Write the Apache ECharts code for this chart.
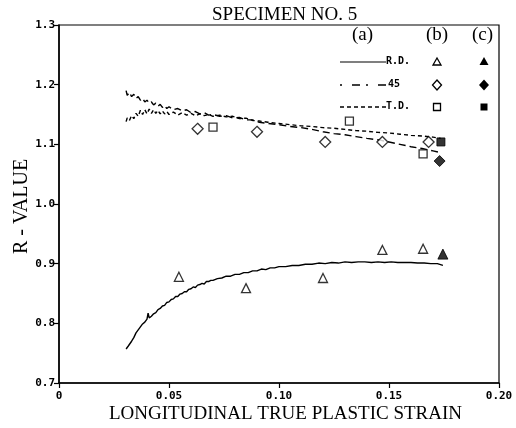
<!DOCTYPE html>
<html><head><meta charset="utf-8">
<script src="https://cdn.jsdelivr.net/npm/echarts@6/dist/echarts.min.js"></script>
<style>html,body{margin:0;padding:0;background:#fff}#c{width:516px;height:428px}</style>
</head><body><div id="c"></div>
<script>
// ---- data ----
const titleText = 'SPECIMEN NO. 5';
const xName = 'LONGITUDINAL TRUE PLASTIC STRAIN';
const yName = 'R - VALUE';
const xTicks = [0, 0.05, 0.10, 0.15, 0.20];
const yTicks = [0.7, 0.8, 0.9, 1.0, 1.1, 1.2, 1.3];

// (a) continuous curves
const curveRD = [
  [0.0305,0.757],[0.0315,0.762],[0.033,0.770],[0.034,0.776],[0.035,0.784],[0.036,0.789],[0.037,0.794],
  [0.038,0.799],[0.039,0.802],[0.040,0.807],[0.0405,0.817],[0.041,0.809],[0.042,0.812],[0.043,0.816],
  [0.044,0.818],[0.045,0.823],[0.046,0.825],[0.047,0.829],[0.048,0.830],[0.049,0.835],[0.050,0.836],
  [0.051,0.840],[0.052,0.841],[0.053,0.845],[0.054,0.845],[0.055,0.849],[0.056,0.850],[0.057,0.853],
  [0.058,0.853],[0.059,0.857],[0.060,0.858],[0.061,0.861],[0.062,0.860],[0.063,0.864],[0.064,0.865],
  [0.065,0.867],[0.066,0.866],[0.067,0.870],[0.068,0.870],[0.069,0.872],[0.070,0.872],[0.072,0.875],
  [0.074,0.876],[0.076,0.879],[0.078,0.879],[0.080,0.882],[0.082,0.882],[0.084,0.885],[0.086,0.885],
  [0.088,0.888],[0.090,0.888],[0.092,0.891],[0.094,0.890],[0.096,0.893],[0.098,0.893],[0.100,0.895],
  [0.103,0.895],[0.106,0.897],[0.109,0.897],[0.112,0.899],[0.115,0.899],[0.118,0.901],[0.121,0.900],
  [0.124,0.902],[0.127,0.901],[0.130,0.903],[0.133,0.902],[0.136,0.903],[0.139,0.903],[0.142,0.902],
  [0.145,0.903],[0.148,0.902],[0.151,0.903],[0.154,0.902],[0.157,0.902],[0.160,0.902],[0.163,0.901],
  [0.166,0.901],[0.169,0.900],[0.172,0.900],[0.1745,0.897]
];
const curve45 = [
  [0.0305,1.190],[0.031,1.182],[0.032,1.187],[0.033,1.180],[0.034,1.184],[0.035,1.177],[0.036,1.180],
  [0.037,1.174],[0.038,1.177],[0.039,1.171],[0.040,1.174],[0.041,1.169],[0.042,1.171],[0.043,1.166],
  [0.044,1.169],[0.045,1.164],[0.046,1.167],[0.047,1.162],[0.048,1.165],[0.049,1.160],[0.050,1.163],
  [0.052,1.158],[0.054,1.160],[0.056,1.156],[0.058,1.158],[0.060,1.153],[0.062,1.155],[0.064,1.151],
  [0.066,1.153],[0.068,1.149],[0.070,1.150],[0.073,1.147],[0.076,1.148],[0.079,1.144],[0.082,1.145],
  [0.085,1.141],[0.088,1.141],[0.091,1.137],[0.095,1.135],[0.100,1.133],[0.105,1.130],[0.110,1.128],
  [0.115,1.125],[0.120,1.121],[0.125,1.118],[0.130,1.116],[0.135,1.113],[0.140,1.110],[0.146,1.107],
  [0.150,1.104],[0.155,1.100],[0.160,1.096],[0.165,1.093],[0.170,1.089],[0.1735,1.086]
];
const curveTD = [
  [0.0305,1.138],[0.031,1.144],[0.032,1.140],[0.033,1.148],[0.034,1.143],[0.035,1.152],[0.036,1.147],
  [0.037,1.157],[0.038,1.150],[0.039,1.158],[0.040,1.151],[0.041,1.159],[0.042,1.152],[0.043,1.158],
  [0.044,1.152],[0.045,1.157],[0.046,1.151],[0.047,1.156],[0.048,1.151],[0.049,1.155],[0.050,1.150],
  [0.052,1.154],[0.054,1.149],[0.056,1.153],[0.058,1.149],[0.060,1.152],[0.062,1.148],[0.064,1.151],
  [0.066,1.148],[0.068,1.150],[0.070,1.147],[0.073,1.149],[0.076,1.146],[0.079,1.147],[0.082,1.143],
  [0.085,1.144],[0.088,1.140],[0.091,1.139],[0.095,1.137],[0.100,1.135],[0.105,1.133],[0.110,1.131],
  [0.115,1.130],[0.120,1.128],[0.125,1.127],[0.130,1.125],[0.135,1.123],[0.140,1.122],[0.145,1.120],
  [0.150,1.119],[0.155,1.117],[0.160,1.115],[0.165,1.114],[0.170,1.112],[0.1735,1.110]
];
// (b) measured, open symbols
const openRD = [[0.0545,0.878],[0.085,0.859],[0.120,0.876],[0.147,0.923],[0.1655,0.925]];
const open45 = [[0.063,1.126],[0.090,1.121],[0.121,1.104],[0.147,1.104],[0.168,1.104]];
const openTD = [[0.070,1.129],[0.132,1.139],[0.1655,1.084]];
// (c) filled symbols
const fillRD = [[0.1745,0.916]];
const fill45 = [[0.173,1.072]];
const fillTD = [[0.1736,1.104]];

// ---- chart ----
const chart = echarts.init(document.getElementById('c'), null, {renderer:'canvas'});
const tickFont = {fontFamily:'DejaVu Sans Mono', fontWeight:'bold', fontSize:11, color:'#000'};
const serif = 'Liberation Serif';

function lineSeries(name, data, type) {
  return {name, type:'line', data, symbol:'none', smooth:false, z:3,
    lineStyle:{color:'#000', width:1.4, type}};
}
function scatterSeries(name, data, symbol, size, filled) {
  return {name, type:'scatter', data, symbol, symbolSize:size, z:4,
    itemStyle: filled ? {color:'#000', borderColor:'#000', borderWidth:1}
                      : {color:'#fff', borderColor:'#000', borderWidth:1.3}};
}

const legX0 = 340, legX1 = 386;
const rowsY = [62, 85, 107];
const legendGraphics = [
  {type:'text', left:352, top:26, style:{text:'(a)', font:'19px ' + serif, fill:'#000'}},
  {type:'text', left:426, top:26, style:{text:'(b)', font:'19px ' + serif, fill:'#000'}},
  {type:'text', left:472, top:26, style:{text:'(c)', font:'19px ' + serif, fill:'#000'}},
  {type:'line', shape:{x1:legX0, y1:rowsY[0], x2:legX1, y2:rowsY[0]}, style:{stroke:'#000', lineWidth:1.2}},
  {type:'line', shape:{x1:legX0, y1:rowsY[1], x2:legX1, y2:rowsY[1]}, style:{stroke:'#000', lineWidth:1.4, lineDash:[2,10,8,6]}},
  {type:'line', shape:{x1:legX0, y1:rowsY[2], x2:legX1, y2:rowsY[2]}, style:{stroke:'#000', lineWidth:1.4, lineDash:[4,3]}},
  {type:'text', left:386, top:rowsY[0]-6, style:{text:'R.D.', font:'bold 10px DejaVu Sans Mono', fill:'#000'}},
  {type:'text', left:388, top:rowsY[1]-6, style:{text:'45', font:'bold 10px DejaVu Sans Mono', fill:'#000'}},
  {type:'text', left:386, top:rowsY[2]-6, style:{text:'T.D.', font:'bold 10px DejaVu Sans Mono', fill:'#000'}},
  {type:'polygon', shape:{points:[[437,rowsY[0]-4],[441,rowsY[0]+3],[433,rowsY[0]+3]]}, style:{fill:'#fff', stroke:'#000', lineWidth:1.3}},
  {type:'polygon', shape:{points:[[437,rowsY[1]-5],[441.5,rowsY[1]],[437,rowsY[1]+5],[432.5,rowsY[1]]]}, style:{fill:'#fff', stroke:'#000', lineWidth:1.3}},
  {type:'rect', shape:{x:433.5, y:rowsY[2]-3.5, width:7, height:7}, style:{fill:'#fff', stroke:'#000', lineWidth:1.3}},
  {type:'polygon', shape:{points:[[484,rowsY[0]-5],[488.5,rowsY[0]+3],[479.5,rowsY[0]+3]]}, style:{fill:'#000'}},
  {type:'polygon', shape:{points:[[484,rowsY[1]-5.5],[489,rowsY[1]],[484,rowsY[1]+5.5],[479,rowsY[1]]]}, style:{fill:'#000'}},
  {type:'rect', shape:{x:480.5, y:rowsY[2]-3.5, width:7, height:7}, style:{fill:'#000'}},
  // title and axis names
  {type:'text', left:212, top:6, style:{text:titleText, font:'19px ' + serif, fill:'#000'}},
  {type:'text', left:109, top:405, style:{text:xName, font:'19px ' + serif, fill:'#000'}},
  {type:'text', x:12, y:254, rotation:Math.PI/2, style:{text:yName, font:'20px ' + serif, fill:'#000'}}
];

const option = {
  animation:false,
  backgroundColor:'#fff',
  grid:{left:59, right:17, top:25, bottom:45, show:true, borderColor:'#000', borderWidth:1.2, backgroundColor:'transparent'},
  xAxis:{type:'value', min:0, max:0.2, interval:0.05,
    axisLine:{show:true, onZero:false, lineStyle:{color:'#000', width:1.5}},
    axisTick:{show:true, length:5, lineStyle:{color:'#000', width:1.2}},
    splitLine:{show:false},
    axisLabel:{...tickFont, margin:8, formatter:v => v === 0 ? '0' : v.toFixed(2)}},
  yAxis:{type:'value', min:0.7, max:1.3, interval:0.1,
    axisLine:{show:true, onZero:false, lineStyle:{color:'#000', width:1.5}},
    axisTick:{show:true, length:5, lineStyle:{color:'#000', width:1.2}},
    splitLine:{show:false},
    axisLabel:{...tickFont, margin:4, formatter:v => v.toFixed(1)}},
  series:[
    lineSeries('R.D.', curveRD, 'solid'),
    lineSeries('45', curve45, [7,4]),
    lineSeries('T.D.', curveTD, [4,3]),
    scatterSeries('R.D. (b)', openRD, 'triangle', 9, false),
    scatterSeries('45 (b)', open45, 'diamond', 11, false),
    scatterSeries('T.D. (b)', openTD, 'rect', 8, false),
    scatterSeries('R.D. (c)', fillRD, 'triangle', 10, true),
    scatterSeries('45 (c)', fill45, 'diamond', 11, true),
    scatterSeries('T.D. (c)', fillTD, 'rect', 8, true)
  ],
  graphic: legendGraphics
};
chart.setOption(option);
</script></body></html>
